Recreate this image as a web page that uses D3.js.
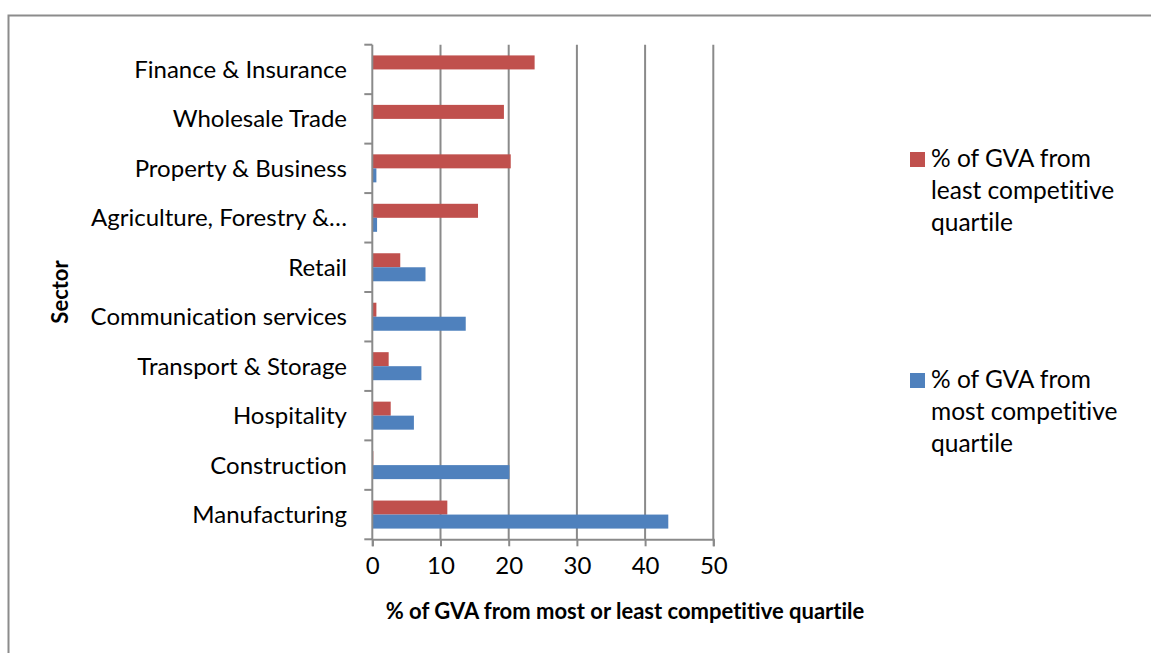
<!DOCTYPE html>
<html>
<head>
<meta charset="utf-8">
<script src="https://cdn.jsdelivr.net/npm/d3@7"></script>
<style>
  html, body { margin: 0; padding: 0; background: #fff; }
  svg { display: block; font-family: Lato, "Noto Sans", sans-serif; font-variant-ligatures: none; }
</style>
</head>
<body>
<svg id="chart" width="1151" height="653"></svg>
<script>
// Sectors, listed top to bottom
const sectors = [
  "Finance & Insurance",
  "Wholesale Trade",
  "Property & Business",
  "Agriculture, Forestry &…",
  "Retail",
  "Communication services",
  "Transport & Storage",
  "Hospitality",
  "Construction",
  "Manufacturing"
];
// % of GVA from least competitive quartile
const leastCompetitive = [23.8, 19.3, 20.3, 15.5, 4.1, 0.6, 2.4, 2.7, 0.15, 11.0];
// % of GVA from most competitive quartile
const mostCompetitive  = [0,    0,    0.6,  0.7,  7.8, 13.7, 7.2, 6.1, 20.1, 43.4];

const seriesNames = [
  "% of GVA from least competitive quartile",
  "% of GVA from most competitive quartile"
];
const seriesLegendLines = [
  ["% of GVA from", "least competitive", "quartile"],
  ["% of GVA from", "most competitive", "quartile"]
];
const seriesColors = ["#C0504D", "#4F81BD"];
const xTicks = [0, 10, 20, 30, 40, 50];

const svg = d3.select("#chart");

// chart frame
svg.append("rect")
  .attr("x", 8.5).attr("y", 15.5)
  .attr("width", 1200).attr("height", 700)
  .attr("fill", "none").attr("stroke", "#8c8c8c").attr("stroke-width", 2);

const plot = { left: 372.3, right: 713.3, top: 44.7, bottom: 539.3 };

const x = d3.scaleLinear().domain([0, 50]).range([plot.left, plot.right]);
const y = d3.scaleBand().domain(sectors).range([plot.top, plot.bottom]).padding(0);
const ySeries = d3.scaleBand().domain([0, 1]).range([0, y.bandwidth()])
  .paddingInner(0).paddingOuter(0.765);

const gridColor = "#8a8a8a";
const labelSize = 24;

// vertical gridlines
svg.append("g")
  .selectAll("line")
  .data(xTicks.filter(t => t > 0))
  .join("line")
  .attr("x1", d => x(d)).attr("x2", d => x(d))
  .attr("y1", plot.top).attr("y2", plot.bottom)
  .attr("stroke", gridColor).attr("stroke-width", 2);

// bars
const rows = sectors.map((s, i) => ({ sector: s, values: [leastCompetitive[i], mostCompetitive[i]] }));
const groups = svg.append("g")
  .selectAll("g")
  .data(rows)
  .join("g")
  .attr("transform", d => `translate(0,${y(d.sector)})`);

groups.selectAll("rect")
  .data(d => d.values.map((v, k) => ({ v, k })))
  .join("rect")
  .attr("x", x(0))
  .attr("y", d => ySeries(d.k))
  .attr("width", d => Math.max(0, x(d.v) - x(0)))
  .attr("height", ySeries.bandwidth())
  .attr("fill", d => seriesColors[d.k]);

// x axis
const xAxis = d3.axisBottom(x).tickValues(xTicks).tickSize(7).tickPadding(11);
const gx = svg.append("g")
  .attr("transform", `translate(0,${plot.bottom})`)
  .call(xAxis);
gx.select(".domain").attr("stroke", gridColor).attr("stroke-width", 2);
gx.selectAll(".tick line").attr("stroke", gridColor).attr("stroke-width", 2);
gx.selectAll(".tick text")
  .attr("font-family", "Lato, 'Noto Sans', sans-serif")
  .attr("font-size", labelSize).attr("fill", "#000");

// y axis: tick marks sit on category boundaries
const gy = svg.append("g");
gy.append("line")
  .attr("x1", plot.left).attr("x2", plot.left)
  .attr("y1", plot.top).attr("y2", plot.bottom)
  .attr("stroke", gridColor).attr("stroke-width", 2);
const boundaries = sectors.map(s => y(s)).concat([plot.bottom]);
gy.selectAll("line.tk")
  .data(boundaries)
  .join("line")
  .attr("class", "tk")
  .attr("x1", plot.left - 8).attr("x2", plot.left)
  .attr("y1", d => d).attr("y2", d => d)
  .attr("stroke", gridColor).attr("stroke-width", 2);
gy.selectAll("text")
  .data(sectors)
  .join("text")
  .attr("x", 347)
  .attr("y", d => y(d) + y.bandwidth() / 2)
  .attr("dy", "0.35em")
  .attr("text-anchor", "end")
  .attr("font-size", labelSize)
  .attr("fill", "#000")
  .text(d => d);

// axis titles
svg.append("text")
  .attr("x", 625).attr("y", 619)
  .attr("text-anchor", "middle")
  .attr("font-size", 22).attr("font-weight", "bold")
  .text("% of GVA from most or least competitive quartile");

svg.append("text")
  .attr("transform", `translate(68,${(plot.top + plot.bottom) / 2}) rotate(-90)`)
  .attr("text-anchor", "middle")
  .attr("font-size", 22).attr("font-weight", "bold")
  .text("Sector");

// legend
const legendTops = [152, 373];
const legend = svg.append("g")
  .selectAll("g")
  .data(seriesNames)
  .join("g")
  .attr("transform", (d, i) => `translate(910,${legendTops[i]})`);
legend.append("rect")
  .attr("width", 15).attr("height", 15)
  .attr("fill", (d, i) => seriesColors[i]);
legend.append("text")
  .attr("font-size", 24.5)
  .attr("fill", "#000")
  .selectAll("tspan")
  .data((d, i) => seriesLegendLines[i])
  .join("tspan")
  .attr("x", 21)
  .attr("y", (d, j) => 15 + j * 32)
  .text(d => d);
</script>
</body>
</html>
